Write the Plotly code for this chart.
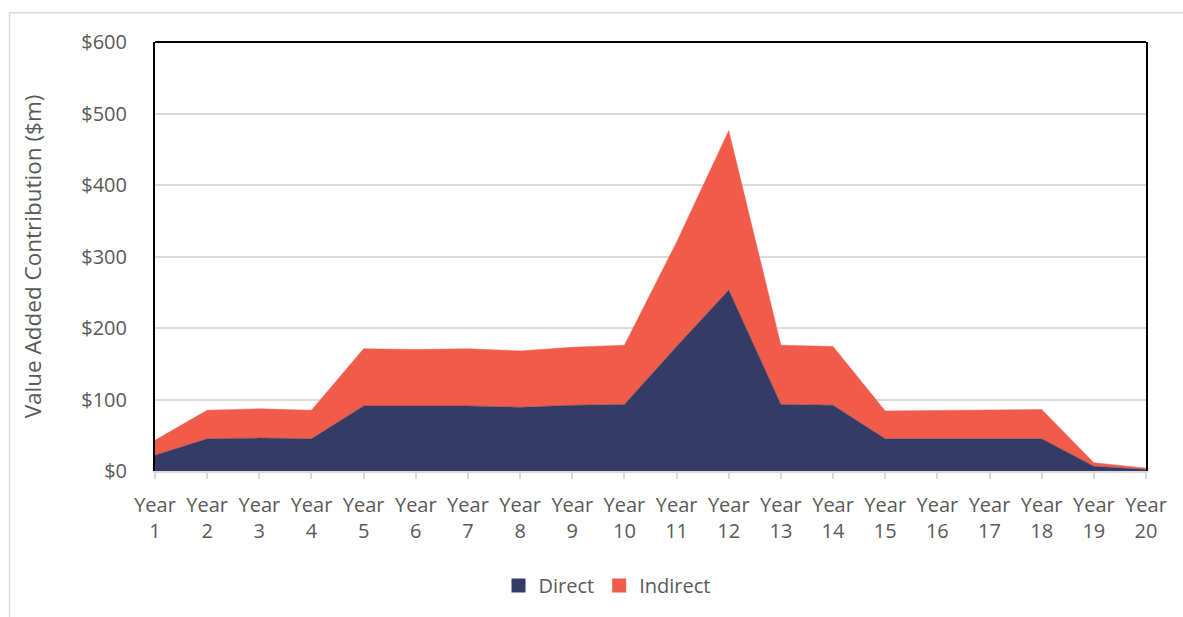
import plotly.graph_objects as go

years = [f"Year<br>{i}" for i in range(1, 21)]
direct = [22, 45, 46, 45, 91, 91, 91, 89, 92, 93, 174, 253, 93, 92, 45, 45, 45, 45, 6.5, 2]
total = [43, 85, 87, 85, 171, 170, 171, 168, 173, 176, 320, 476, 176, 174, 84, 84.5, 85, 86, 11.6, 4]
indirect = [round(t - d, 1) for t, d in zip(total, direct)]
series_names = ["Direct", "Indirect"]

NAVY = "#343C66"
RED = "#F05B4A"
TXT = "#595959"
FONT = "'Open Sans', Lato, sans-serif"

fig = go.Figure()
for name, vals, col in zip(series_names, [direct, indirect], [NAVY, RED]):
    fig.add_trace(go.Scatter(x=years, y=vals, name=name, stackgroup="one",
                             mode="lines", line=dict(width=0.5, color=col),
                             fillcolor=col, showlegend=False, legendgroup=name))
for name, col in zip(series_names, [NAVY, RED]):
    fig.add_trace(go.Scatter(x=[None], y=[None], name=name, mode="markers",
                             marker=dict(symbol="square", size=14, color=col),
                             legendgroup=name, showlegend=True))

L, R, T, B = 155, 1146, 42, 473
W, H = 1183, 617
pw, ph = R - L, B - T

def px(x):
    return (x - L) / pw

def py(y):
    return (B - y) / ph

fig.update_layout(
    width=W, height=H,
    margin=dict(l=L, r=W - R, t=T, b=H - B),
    paper_bgcolor="white", plot_bgcolor="white",
    font=dict(family=FONT, size=20, color=TXT),
    showlegend=True,
    legend=dict(orientation="h", x=px(607), xanchor="center", y=py(588), yanchor="middle",
                font=dict(size=20, color=TXT), itemwidth=30, traceorder="normal"),
    xaxis=dict(range=[0, 19], showgrid=False, showline=True, linecolor="#D9D9D9",
               linewidth=2, ticks="outside", ticklen=6, tickcolor="#D9D9D9",
               tickwidth=2, tickangle=0, ticklabelstandoff=9,
               tickfont=dict(size=20, color=TXT)),
    yaxis=dict(range=[0, 600], dtick=100, tickprefix="$", showgrid=True,
               gridcolor="#D9D9D9", gridwidth=1.5, showline=True, linecolor="black",
               linewidth=2, mirror=True, ticks="", ticklabelstandoff=22,
               zeroline=False, tickfont=dict(size=20, color=TXT),
               title=dict(text="Value Added Contribution ($m)",
                          font=dict(size=22.5, color=TXT), standoff=33)),
    shapes=[
        dict(type="line", xref="paper", yref="paper", x0=0, x1=1, y0=1, y1=1,
             line=dict(color="black", width=2)),
        dict(type="rect", xref="paper", yref="paper", x0=px(9.5), x1=px(1200),
             y0=py(640), y1=py(12.5), line=dict(color="#D9D9D9", width=1.5),
             fillcolor="rgba(0,0,0,0)", layer="below"),
    ],
)

fig.write_html("out.html")
